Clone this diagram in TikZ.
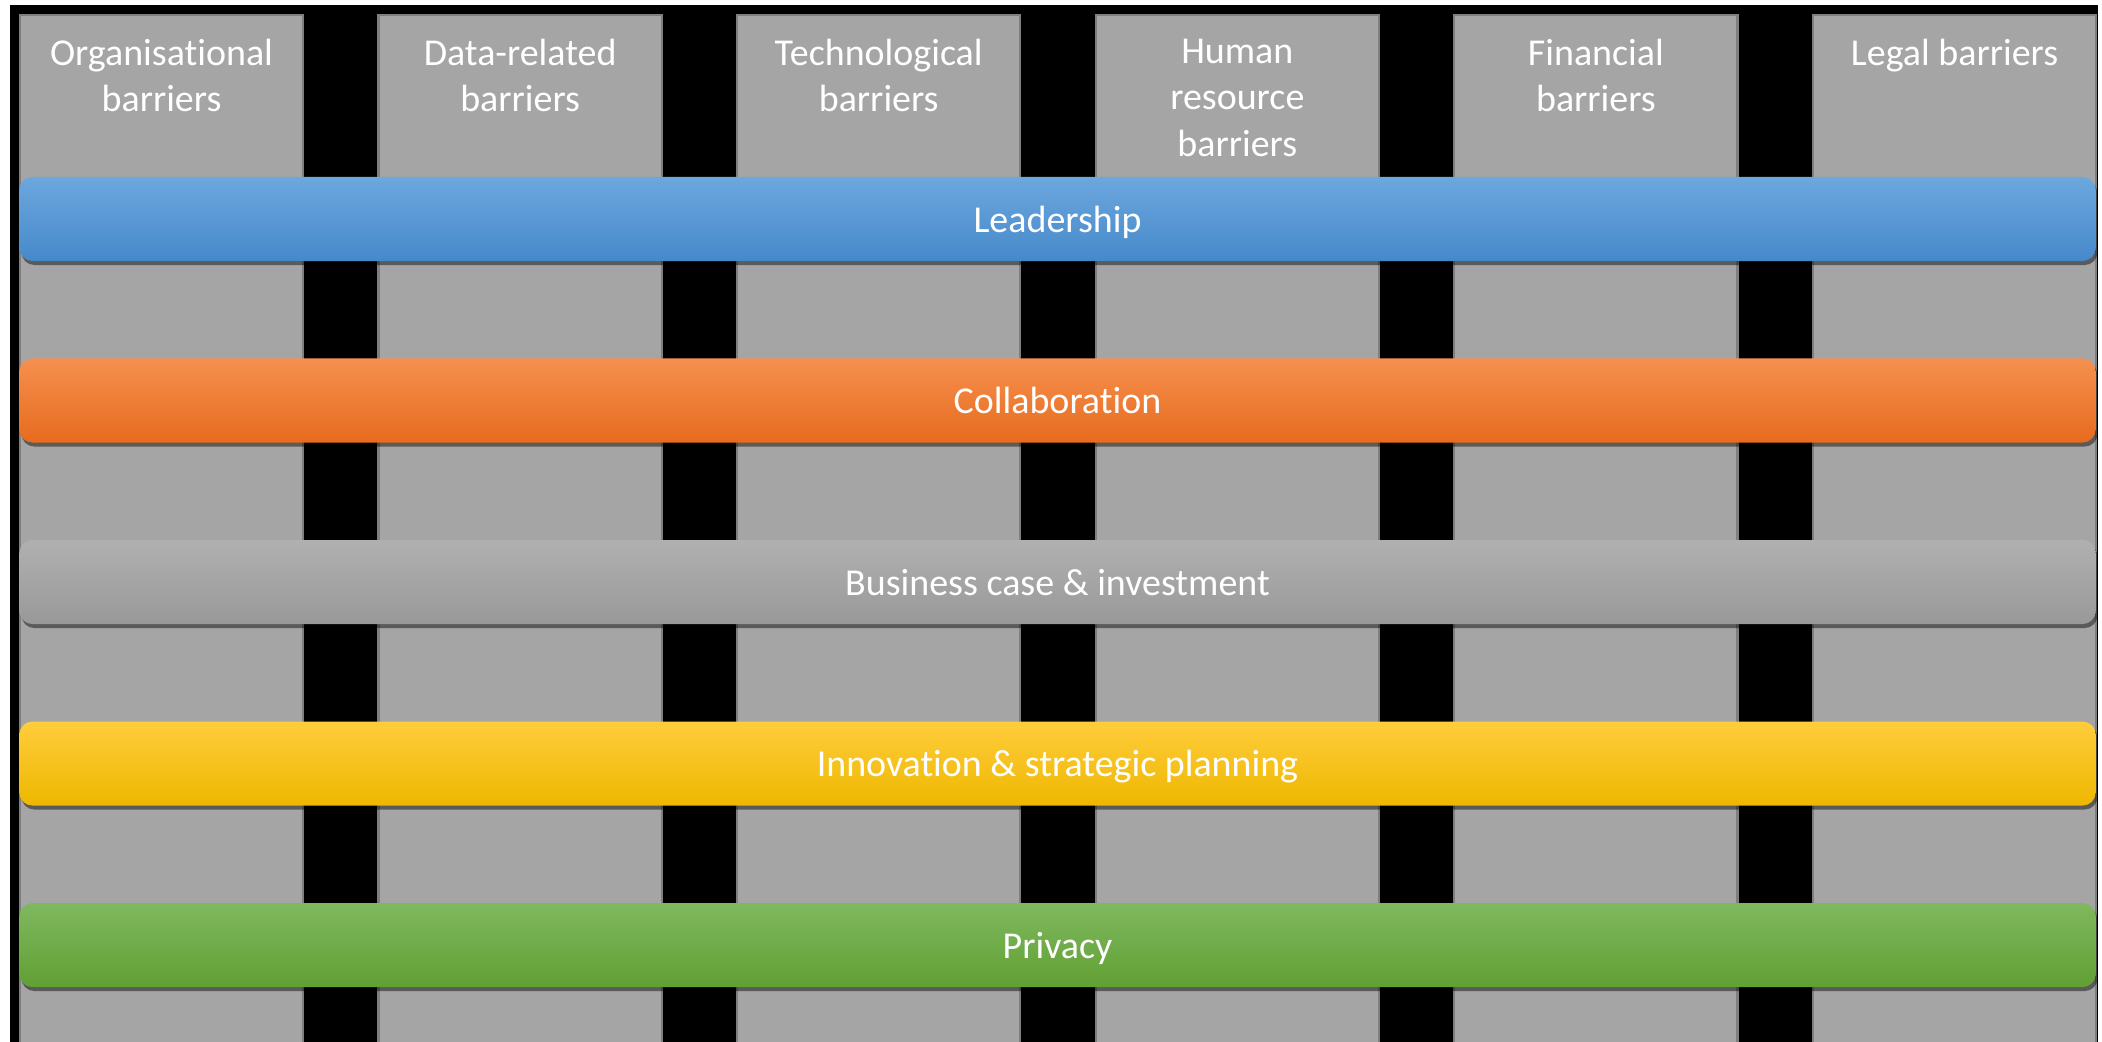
\documentclass[tikz,border=0pt]{standalone}
\usepackage{fontspec}
\setmainfont{Carlito}[Ligatures=NoCommon]
\usetikzlibrary{positioning,shadows}
\definecolor{colgray}{HTML}{A5A5A5}
\definecolor{colline}{HTML}{7F7F7F}
\definecolor{blueA}{HTML}{6CA7DE}
\definecolor{blueB}{HTML}{4689CB}
\definecolor{orangeA}{HTML}{F5904E}
\definecolor{orangeB}{HTML}{E76B1E}
\definecolor{grayA}{HTML}{B0B0B0}
\definecolor{grayB}{HTML}{999999}
\definecolor{yellowA}{HTML}{FFCD3C}
\definecolor{yellowB}{HTML}{EEB700}
\definecolor{greenA}{HTML}{7FB85F}
\definecolor{greenB}{HTML}{61A033}
\tikzset{
    barrier/.style={rectangle, draw=colline, fill=colgray, line width=0.6pt, minimum width=2.83cm, minimum height=10.4cm, anchor=north, inner sep=0pt},
    barrierlabel/.style={text=white, align=center, inner sep=0pt, font=\fontsize{10.8}{13.3}\selectfont},
    theme/.style={rectangle, rounded corners=0.13cm, minimum width=20.75cm, minimum height=0.84cm, inner sep=0pt, text height=0.26cm, text depth=0pt, text=white, font=\fontsize{10.8}{13.3}\selectfont,
        drop shadow={shadow xshift=0.02cm, shadow yshift=-0.04cm, fill=black, opacity=0.45}}
}

\begin{document}
\begin{tikzpicture}[x=0.01cm, y=-0.01cm]
    \useasboundingbox (0,0) rectangle (2102,1042);
    \fill[black] (10,5) rectangle (2098,1046);
    % barrier columns
    \foreach \i/\txt in {0/{Organisational\\barriers}, 1/{Data-related\\barriers}, 2/{Technological\\barriers},
                         3/{Human\\resource\\barriers}, 4/{Financial\\barriers}, 5/{Legal barriers}} {
        \node[barrier] (col\i) at (161.5+358.6*\i,14) {};
        \node[barrierlabel, below=0.24cm of col\i.north] (lab\i) {\txt};
    }
    % themes across the barriers
    \node[theme, top color=blueA, bottom color=blueB] (leadership) at (1057.5,219) {Leadership};
    \node[theme, top color=orangeA, bottom color=orangeB, below=0.96cm of leadership] (collaboration) {Collaboration};
    \node[theme, top color=grayA, bottom color=grayB, below=0.96cm of collaboration] (business) {Business case \& investment};
    \node[theme, top color=yellowA, bottom color=yellowB, below=0.96cm of business] (innovation) {Innovation \& strategic planning};
    \node[theme, top color=greenA, bottom color=greenB, below=0.96cm of innovation] (privacy) {Privacy};
\end{tikzpicture}
\end{document}
